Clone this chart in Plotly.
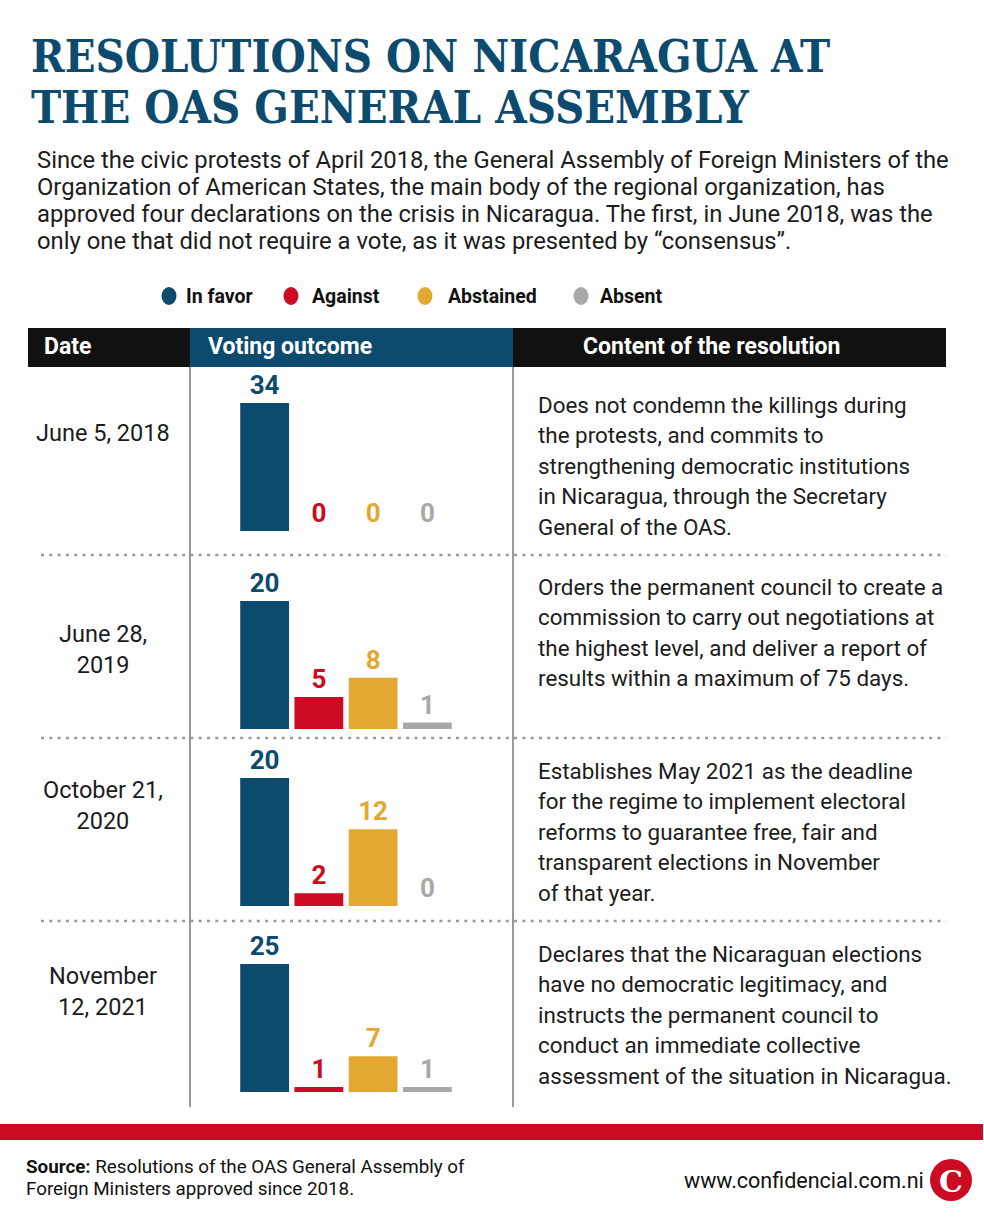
import plotly.graph_objects as go

W, H = 984, 1229

# ---------------- data ----------------
categories = ["In favor", "Against", "Abstained", "Absent"]
dates = ["June 5, 2018", "June 28,<br>2019", "October 21,<br>2020", "November<br>12, 2021"]
votes_2018 = [34, 0, 0, 0]
votes_2019 = [20, 5, 8, 1]
votes_2020 = [20, 2, 12, 0]
votes_2021 = [25, 1, 7, 1]
all_votes = [votes_2018, votes_2019, votes_2020, votes_2021]

content_2018 = ["Does not condemn the killings during", "the protests, and commits to",
                "strengthening democratic institutions", "in Nicaragua, through the Secretary",
                "General of the OAS."]
content_2019 = ["Orders the permanent council to create a", "commission to carry out negotiations at",
                "the highest level, and deliver a report of", "results within a maximum of 75 days."]
content_2020 = ["Establishes May 2021 as the deadline", "for the regime to implement electoral",
                "reforms to guarantee free, fair and", "transparent elections in November",
                "of that year."]
content_2021 = ["Declares that the Nicaraguan elections", "have no democratic legitimacy, and",
                "instructs the permanent council to", "conduct an immediate collective",
                "assessment of the situation in Nicaragua."]
contents = [content_2018, content_2019, content_2020, content_2021]

title_lines = ["RESOLUTIONS ON NICARAGUA AT", "THE OAS GENERAL ASSEMBLY"]
intro_lines = [
    "Since the civic protests of April 2018, the General Assembly of Foreign Ministers of the",
    "Organization of American States, the main body of the regional organization, has",
    "approved four declarations on the crisis in Nicaragua. The first, in June 2018, was the",
    "only one that did not require a vote, as it was presented by \u201cconsensus\u201d.",
]
headers = ["Date", "Voting outcome", "Content of the resolution"]
source_lines = ["<b>Source:</b> Resolutions of the OAS General Assembly of",
                "Foreign Ministers approved since 2018."]
site = "www.confidencial.com.ni"

# ---------------- style ----------------
BLUE = "#0c4a6e"
RED = "#cc0a22"
ORANGE = "#e3a832"
GRAY = "#a8a8a8"
colors = [BLUE, RED, ORANGE, GRAY]
TXT = "#1c1c1c"
BODY = "Roboto, 'Liberation Sans', sans-serif"
TITLEF = "'DejaVu Serif Condensed', 'DejaVu Serif', serif"


def X(px):
    return px / W


def Y(py):
    return 1 - py / H


fig = go.Figure()
annotations = []
shapes = []

# panel geometry (pixels)
baselines = [531, 729, 906, 1092]
bar_h = 128
bar_x0, bar_x1 = 237.5, 454.5

for i, vals in enumerate(all_votes):
    ax = "" if i == 0 else str(i + 1)
    fig.add_trace(go.Bar(
        x=categories, y=vals, marker=dict(color=colors, line=dict(width=0)),
        text=[str(v) for v in vals], textposition="outside", cliponaxis=False,
        textfont=dict(family=BODY, size=26, color=colors, weight="bold"),
        xaxis="x" + ax, yaxis="y" + ax, showlegend=False, hoverinfo="skip",
    ))
    fig.update_layout(**{
        "xaxis" + ax: dict(domain=[X(bar_x0), X(bar_x1)], visible=False, fixedrange=True,
                           anchor="y" + ax),
        "yaxis" + ax: dict(domain=[Y(baselines[i]), Y(baselines[i] - bar_h)],
                           range=[0, max(vals)], visible=False, fixedrange=True,
                           anchor="x" + ax),
    })

# title
for j, (line, cy) in enumerate(zip(title_lines, [56, 108])):
    annotations.append(dict(x=X(29), y=Y(cy), xref="paper", yref="paper", text=line,
                            showarrow=False, xanchor="left", yanchor="middle",
                            font=dict(family=TITLEF, size=45, color=BLUE, weight="bold")))

# intro text
for j, line in enumerate(intro_lines):
    annotations.append(dict(x=X(35), y=Y(160 + 27 * j), xref="paper", yref="paper", text=line,
                            showarrow=False, xanchor="left", yanchor="middle",
                            font=dict(family=BODY, size=23.8, color=TXT)))

# legend
leg_cx = [169, 291, 425, 581]
leg_tx = [184, 310, 446, 598]
for c, tx, name, col in zip(leg_cx, leg_tx, categories, colors):
    shapes.append(dict(type="circle", xref="paper", yref="paper", x0=X(c - 7.5), x1=X(c + 7.5),
                       y0=Y(296 + 9), y1=Y(296 - 9), fillcolor=col, line=dict(width=0)))
    annotations.append(dict(x=X(tx), y=Y(296), xref="paper", yref="paper", text=name,
                            showarrow=False, xanchor="left", yanchor="middle",
                            font=dict(family=BODY, size=19.5, color="#111111", weight="bold")))

# header bar
shapes.append(dict(type="rect", xref="paper", yref="paper", x0=X(28), x1=X(946), y0=Y(367), y1=Y(328),
                   fillcolor="#111111", line=dict(width=0), layer="below"))
shapes.append(dict(type="rect", xref="paper", yref="paper", x0=X(190), x1=X(513), y0=Y(367), y1=Y(328),
                   fillcolor=BLUE, line=dict(width=0), layer="below"))
for txt, hx, anc in zip(headers, [42, 206, 711], ["left", "left", "center"]):
    annotations.append(dict(x=X(hx), y=Y(346), xref="paper", yref="paper", text=txt,
                            showarrow=False, xanchor=anc, yanchor="middle",
                            font=dict(family=BODY, size=23, color="white", weight="bold")))

# column lines
for vx in [190, 513]:
    shapes.append(dict(type="line", xref="paper", yref="paper", x0=X(vx), x1=X(vx), y0=Y(1107), y1=Y(367),
                       line=dict(color="#555555", width=1.2)))

# dotted separators
for sy in [555, 738, 921]:
    shapes.append(dict(type="line", xref="paper", yref="paper", x0=X(41), x1=X(946), y0=Y(sy), y1=Y(sy),
                       line=dict(color="#9a9a9a", width=2.5, dash="3px,5.3px")))

# dates
date_cy = [433, 649, 805, 991]
for d, cy in zip(dates, date_cy):
    annotations.append(dict(x=X(103), y=Y(cy), xref="paper", yref="paper", text=d,
                            showarrow=False, xanchor="center", yanchor="middle", align="center",
                            font=dict(family=BODY, size=23.5, color=TXT)))

# content text
content_top = [405, 587, 771, 954]
for lines, top in zip(contents, content_top):
    for k, line in enumerate(lines):
        annotations.append(dict(x=X(536), y=Y(top + 30.4 * k), xref="paper", yref="paper", text=line,
                                showarrow=False, xanchor="left", yanchor="middle",
                                font=dict(family=BODY, size=22.4, color=TXT)))

# footer
shapes.append(dict(type="rect", xref="paper", yref="paper", x0=0, x1=X(983), y0=Y(1140), y1=Y(1124),
                   fillcolor=RED, line=dict(width=0)))
for k, line in enumerate(source_lines):
    annotations.append(dict(x=X(24), y=Y(1167 + 22 * k), xref="paper", yref="paper", text=line,
                            showarrow=False, xanchor="left", yanchor="middle",
                            font=dict(family=BODY, size=18.8, color="#111111")))
annotations.append(dict(x=X(926), y=Y(1180), xref="paper", yref="paper", text=site,
                        showarrow=False, xanchor="right", yanchor="middle",
                        font=dict(family=BODY, size=21.5, color="#111111")))
shapes.append(dict(type="circle", xref="paper", yref="paper", x0=X(930), x1=X(972),
                   y0=Y(1201), y1=Y(1159), fillcolor=RED, line=dict(width=0)))
annotations.append(dict(x=X(951), y=Y(1181), xref="paper", yref="paper", text="C",
                        showarrow=False, xanchor="center", yanchor="middle",
                        font=dict(family="'DejaVu Serif', serif", size=30, color="white", weight="bold")))

fig.update_layout(
    width=W, height=H, margin=dict(l=0, r=0, t=0, b=0),
    paper_bgcolor="white", plot_bgcolor="rgba(0,0,0,0)",
    bargap=0.1, annotations=annotations, shapes=shapes,
)

fig.write_html("out.html", config={"displayModeBar": False},
               post_script="document.body.style.margin='0px';")
